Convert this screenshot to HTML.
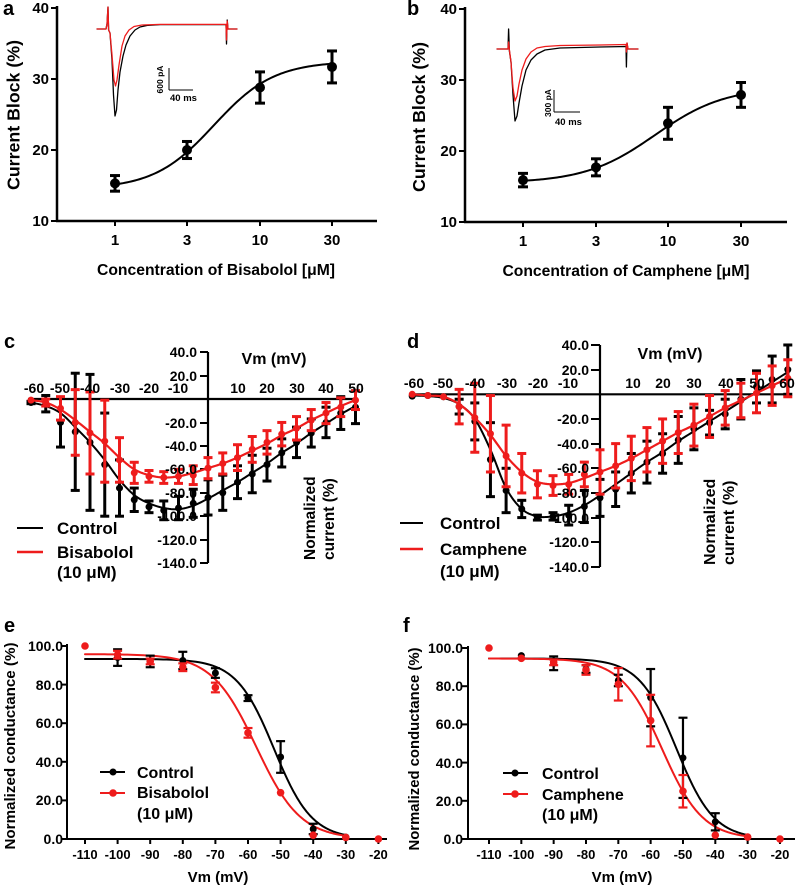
<!DOCTYPE html>
<html><head><meta charset="utf-8"><style>
html,body{margin:0;padding:0;background:#fff;}
svg{display:block;}
text{font-family:"Liberation Sans",Arial,sans-serif;font-weight:bold;fill:#000;}
</style></head><body>
<svg id="s" xmlns="http://www.w3.org/2000/svg" width="797" height="886" viewBox="0 0 797 886">
<rect width="797" height="886" fill="#fff"/>
<g id="g"></g>
<!-- panel letters -->
<text x="3" y="15" font-size="20">a</text>
<text x="407" y="15" font-size="20">b</text>
<text x="4" y="348" font-size="20">c</text>
<text x="407" y="348" font-size="20">d</text>
<text x="4" y="632" font-size="20">e</text>
<text x="403" y="632" font-size="20">f</text>

<!-- panel a text -->
<g font-size="15" text-anchor="end">
<text x="49" y="13">40</text><text x="49" y="84">30</text><text x="49" y="155">20</text><text x="49" y="226">10</text>
</g>
<g font-size="15" text-anchor="middle">
<text x="115" y="245">1</text><text x="187" y="245">3</text><text x="260" y="245">10</text><text x="332" y="245">30</text>
</g>
<text x="216" y="275" font-size="15.7" text-anchor="middle" textLength="238" lengthAdjust="spacingAndGlyphs">Concentration of Bisabolol [μM]</text>
<text transform="translate(19.5,115) rotate(-90)" font-size="17.5" text-anchor="middle" textLength="150" lengthAdjust="spacingAndGlyphs">Current Block (%)</text>
<text transform="translate(163,79.5) rotate(-90)" font-size="8.5" text-anchor="middle">600 pA</text>
<text x="170" y="101" font-size="9.5">40 ms</text>

<!-- panel b text -->
<g font-size="15" text-anchor="end">
<text x="457" y="14">40</text><text x="457" y="85">30</text><text x="457" y="156">20</text><text x="457" y="227">10</text>
</g>
<g font-size="15" text-anchor="middle">
<text x="523" y="246">1</text><text x="596" y="246">3</text><text x="668" y="246">10</text><text x="741" y="246">30</text>
</g>
<text x="626" y="276" font-size="15.7" text-anchor="middle" textLength="247" lengthAdjust="spacingAndGlyphs">Concentration of Camphene [μM]</text>
<text transform="translate(425,117) rotate(-90)" font-size="17.5" text-anchor="middle" textLength="150" lengthAdjust="spacingAndGlyphs">Current Block (%)</text>
<text transform="translate(551,103) rotate(-90)" font-size="8.5" text-anchor="middle">300 pA</text>
<text x="555" y="125" font-size="9.5">40 ms</text>

<!-- panel c text -->
<g font-size="14" text-anchor="end">
<text x="197" y="357">40.0</text><text x="197" y="381">20.0</text>
<text x="197" y="428">-20.0</text><text x="197" y="451">-40.0</text><text x="197" y="474">-60.0</text>
<text x="197" y="498">-80.0</text><text x="197" y="521">-100.0</text><text x="197" y="545">-120.0</text><text x="197" y="568">-140.0</text>
</g>
<g font-size="14" text-anchor="middle">
<text x="34" y="393">-60</text><text x="60" y="393">-50</text><text x="90" y="393">-40</text><text x="120" y="393">-30</text>
<text x="149" y="393">-20</text><text x="178" y="393">-10</text><text x="238" y="393">10</text><text x="267" y="393">20</text>
<text x="297" y="393">30</text><text x="326" y="393">40</text><text x="356" y="393">50</text>
</g>
<text x="274" y="364" font-size="16" text-anchor="middle">Vm (mV)</text>
<text transform="translate(315,560) rotate(-90)" font-size="15.5">Normalized</text>
<text transform="translate(334,560) rotate(-90)" font-size="15.5">current (%)</text>
<text x="57" y="534" font-size="17">Control</text>
<text x="57" y="558" font-size="17">Bisabolol</text>
<text x="57" y="578" font-size="17">(10 μM)</text>

<!-- panel d text -->
<g font-size="14" text-anchor="end">
<text x="589" y="350">40.0</text><text x="589" y="375">20.0</text>
<text x="589" y="424">-20.0</text><text x="589" y="449">-40.0</text><text x="589" y="473">-60.0</text>
<text x="589" y="498">-80.0</text><text x="589" y="523">-100.0</text><text x="589" y="547">-120.0</text><text x="589" y="572">-140.0</text>
</g>
<g font-size="14" text-anchor="middle">
<text x="414" y="388">-60</text><text x="443" y="388">-50</text><text x="475" y="388">-40</text><text x="507" y="388">-30</text>
<text x="538" y="388">-20</text><text x="568" y="388">-10</text><text x="633" y="388">10</text><text x="663" y="388">20</text>
<text x="694" y="388">30</text><text x="726" y="388">40</text><text x="757" y="388">50</text><text x="787" y="388">60</text>
</g>
<text x="670" y="359" font-size="16" text-anchor="middle">Vm (mV)</text>
<text transform="translate(715,565) rotate(-90)" font-size="16">Normalized</text>
<text transform="translate(734,565) rotate(-90)" font-size="16">current (%)</text>
<text x="440" y="529" font-size="17">Control</text>
<text x="440" y="555" font-size="17">Camphene</text>
<text x="440" y="577" font-size="17">(10 μM)</text>

<!-- panel e text -->
<g font-size="14" text-anchor="end">
<text x="63" y="651">100.0</text><text x="63" y="690">80.0</text><text x="63" y="728">60.0</text>
<text x="63" y="767">40.0</text><text x="63" y="805">20.0</text><text x="63" y="844">0.0</text>
</g>
<g font-size="13" text-anchor="middle">
<text x="85" y="859">-110</text><text x="117.6" y="859">-100</text><text x="150.2" y="859">-90</text><text x="182.8" y="859">-80</text>
<text x="215.4" y="859">-70</text><text x="248" y="859">-60</text><text x="280.6" y="859">-50</text><text x="313.2" y="859">-40</text>
<text x="345.8" y="859">-30</text><text x="378.4" y="859">-20</text>
</g>
<text x="218" y="882" font-size="15" text-anchor="middle">Vm (mV)</text>
<text transform="translate(15,746) rotate(-90)" font-size="15" text-anchor="middle" textLength="207" lengthAdjust="spacingAndGlyphs">Normalized conductance (%)</text>
<text x="137" y="778" font-size="16">Control</text>
<text x="137" y="798" font-size="16">Bisabolol</text>
<text x="137" y="819" font-size="16">(10 μM)</text>

<!-- panel f text -->
<g font-size="14" text-anchor="end">
<text x="463" y="653">100.0</text><text x="463" y="691">80.0</text><text x="463" y="729">60.0</text>
<text x="463" y="768">40.0</text><text x="463" y="806">20.0</text><text x="463" y="844">0.0</text>
</g>
<g font-size="13" text-anchor="middle">
<text x="489" y="859">-110</text><text x="521.3" y="859">-100</text><text x="553.7" y="859">-90</text><text x="586" y="859">-80</text>
<text x="618.3" y="859">-70</text><text x="650.7" y="859">-60</text><text x="683" y="859">-50</text><text x="715.3" y="859">-40</text>
<text x="747.6" y="859">-30</text><text x="780" y="859">-20</text>
</g>
<text x="622" y="882" font-size="15" text-anchor="middle">Vm (mV)</text>
<text transform="translate(419,749) rotate(-90)" font-size="15" text-anchor="middle" textLength="203" lengthAdjust="spacingAndGlyphs">Normalized conductance (%)</text>
<text x="542" y="779" font-size="16">Control</text>
<text x="542" y="800" font-size="16">Camphene</text>
<text x="542" y="820" font-size="16">(10 μM)</text>
</svg>
<script>
(function(){
var NS='http://www.w3.org/2000/svg';
var G=document.getElementById('g');
function el(t,a){var e=document.createElementNS(NS,t);for(var k in a)e.setAttribute(k,a[k]);G.appendChild(e);return e;}
function line(x1,y1,x2,y2,c,w){el('line',{x1:x1,y1:y1,x2:x2,y2:y2,stroke:c,'stroke-width':w});}
function dot(x,y,r,c){el('circle',{cx:x,cy:y,r:r,fill:c});}
function ebar(x,y1,y2,c,w,cw){line(x,y1,x,y2,c,w);line(x-cw,y1,x+cw,y1,c,w);line(x-cw,y2,x+cw,y2,c,w);}
function poly(pts,c,w){el('path',{d:'M'+pts.map(function(p){return p[0].toFixed(2)+','+p[1].toFixed(2);}).join('L'),fill:'none',stroke:c,'stroke-width':w,'stroke-linejoin':'round','stroke-linecap':'round'});}
function spline(pts,n){n=n||10;var out=[];for(var i=0;i<pts.length-1;i++){var p0=pts[Math.max(i-1,0)],p1=pts[i],p2=pts[i+1],p3=pts[Math.min(i+2,pts.length-1)];
 for(var j=0;j<n;j++){var t=j/n,t2=t*t,t3=t2*t;var f=function(a,b,c,d){return 0.5*((2*b)+(-a+c)*t+(2*a-5*b+4*c-d)*t2+(-a+3*b-3*c+d)*t3);};
 out.push([f(p0[0],p1[0],p2[0],p3[0]),f(p0[1],p1[1],p2[1],p3[1])]);}}out.push(pts[pts.length-1]);return out;}
var R='#ee1c1c',K='#000';

/* ---------- panel a ---------- */
line(57,6,57,222,K,2.5);line(56,221,377,221,K,2.5);
[8,79,150,221].forEach(function(y){line(51,y,57,y,K,2);});
[115,187,260,332].forEach(function(x){line(x,221,x,226,K,2);});
function Ya(v){return 221-(v-10)*7.1;}
var pa=[];for(var x=115;x<=332;x+=2){pa.push([x,Ya(14.5+18/(1+Math.exp(-(x-214)/30)))]);}
poly(pa,K,2);
[[115,15.3,1.1],[187,20.0,1.2],[260,28.8,2.2],[332,31.7,2.25]].forEach(function(d){ebar(d[0],Ya(d[1]+d[2]),Ya(d[1]-d[2]),K,3,5);dot(d[0],Ya(d[1]),5,K);});
// inset a
poly([[97,29],[106,29],[107,24],[108,7],[108.6,30],[110,33],[112,60],[113.5,95],[115,116],[116.5,110],[118,90],[120,72],[123,56],[126,45],[130,36],[135,30],[140,27],[148,25.3],[160,24.6],[226,24.6],[226.5,44],[227.2,20],[228,29],[237,29]],K,1.3);
poly([[97,29],[106,29],[107,24],[108,7],[108.6,30],[110,33],[112,55],[114,80],[115.5,86],[117,80],[119,65],[122,46],[125,36],[129,30],[134,26.5],[142,25],[160,24.4],[226,24.4],[226.5,40],[227.2,21],[228,29],[237,29]],R,1.3);
line(169,68,169,90,K,1);line(169,90,193,90,K,1);

/* ---------- panel b ---------- */
line(465,7,465,223,K,2.5);line(464,222,787,222,K,2.5);
[9,80,151,222].forEach(function(y){line(459,y,465,y,K,2);});
[523,596,668,741].forEach(function(x){line(x,222,x,227,K,2);});
function Yb(v){return 222-(v-10)*7.1;}
var pb=[];for(var x=523;x<=741;x+=2){pb.push([x,Yb(15.5+13.5/(1+Math.exp(-(x-655)/35)))]);}
poly(pb,K,2);
[[523,15.9,0.95],[596,17.7,1.2],[668,23.9,2.25],[741,27.9,1.75]].forEach(function(d){ebar(d[0],Yb(d[1]+d[2]),Yb(d[1]-d[2]),K,3,5);dot(d[0],Yb(d[1]),5,K);});
// inset b
poly([[497,49],[508,49],[508.6,29],[509.4,51],[511,62],[513,95],[515,121],[517,116],[519,103],[522,86],[526,70],[531,60],[537,54],[545,50],[560,48],[600,47],[626,46.5],[626.4,67],[627,43],[628,49],[638,49]],K,1.3);
poly([[497,49],[508,49],[508.6,42],[509.4,50],[511,62],[513,88],[515,101],[517,96],[519,84],[522,70],[526,59],[531,52],[537,48],[545,46.5],[560,45.5],[600,45],[626,44.5],[626.4,52],[627,43],[628,49],[638,49]],R,1.3);
line(554,90,554,112,K,1);line(554,112,580,112,K,1);

/* ---------- panel c ---------- */
function Xc(V){return 208+V*2.95;} function Yc(v){return 399-1.172*v;}
line(208,352,208,563,K,2.2);line(28,399,357,399,K,2.2);
[352,376,423,446,469,493,516,540,563].forEach(function(y){line(200,y,208,y,K,2);});
var cK=[[-60,-3],[-55,-6],[-50,-12],[-45,-24],[-40,-37],[-35,-52],[-30,-69],[-25,-82],[-20,-89],[-15,-93],[-10,-94],[-5,-91],[0,-85],[5,-78],[10,-71],[15,-63],[20,-55],[25,-46],[30,-38],[35,-29],[40,-21],[45,-13],[50,-6]];
var cR=[[-60,-1],[-55,-3],[-50,-9],[-45,-18],[-40,-28],[-35,-38],[-30,-50],[-25,-60],[-20,-65],[-15,-67],[-10,-66],[-5,-63],[0,-59],[5,-55],[10,-50],[15,-44],[20,-38],[25,-31],[30,-25],[35,-18],[40,-12],[45,-6],[50,-1]];
var dK=[[-60,-3,1],[-55,-4,7],[-50,-20,21],[-45,-28,50],[-40,-37,58],[-35,-56,44],[-30,-76,24],[-25,-86,10],[-20,-92,5],[-15,-95,8],[-10,-93,10],[-5,-89,12],[0,-84,15],[5,-80,15],[10,-71,14],[15,-64,16],[20,-56,14],[25,-46,12],[30,-37,13],[35,-29,12],[40,-20,13],[45,-12,14],[50,-7,14]];
var dR=[[-60,-1,0],[-55,-3,3],[-50,-8,10],[-45,-20,28],[-40,-29,35],[-35,-36,35],[-30,-52,19],[-25,-63,9],[-20,-66,5],[-15,-67,5],[-10,-66,6],[-5,-65,8],[0,-59,9],[5,-55,9],[10,-50,11],[15,-43,11],[20,-37,10],[25,-30,10],[30,-25,10],[35,-18,9],[40,-12,9],[45,-7,8],[50,-1,8]];
poly(spline(cK.map(function(p){return [Xc(p[0]),Yc(p[1])];}),8),K,2);
dK.forEach(function(d){if(d[2]>0)ebar(Xc(d[0]),Yc(d[1]+d[2]),Yc(d[1]-d[2]),K,3,4.5);dot(Xc(d[0]),Yc(d[1]),3.5,K);});
poly(spline(cR.map(function(p){return [Xc(p[0]),Yc(p[1])];}),8),R,2.2);
dR.forEach(function(d){if(d[2]>0)ebar(Xc(d[0]),Yc(d[1]+d[2]),Yc(d[1]-d[2]),R,3,4.5);dot(Xc(d[0]),Yc(d[1]),3.5,R);});
line(17,528,43,528,K,2);line(17,552,43,552,R,2.5);

/* ---------- panel d ---------- */
function Xd(V){return 600+V*3.13;} function Yd(v){return 394.3-1.233*v;}
line(600,345,600,567,K,2.2);line(410,394.3,792,394.3,K,2.2);
[345,370,419,444,468,493,518,542,567].forEach(function(y){line(591,y,600,y,K,2);});
var eK=[[-60,-1],[-55,-1.5],[-50,-3],[-45,-8],[-40,-20],[-35,-45],[-30,-76],[-25,-93],[-20,-99],[-15,-99],[-10,-96],[-5,-90],[0,-82],[5,-73],[10,-64],[15,-55],[20,-47],[25,-38],[30,-30],[35,-22],[40,-14],[45,-6],[50,2],[55,10],[60,18]];
var eR=[[-60,0],[-55,-1],[-50,-2],[-45,-8],[-40,-19],[-35,-33],[-30,-50],[-25,-63],[-20,-71],[-15,-73],[-10,-72],[-5,-68],[0,-63],[5,-58],[10,-52],[15,-45],[20,-38],[25,-31],[30,-25],[35,-18],[40,-11],[45,-5],[50,1],[55,7],[60,13]];
var fK=[[-60,-1.5,0],[-55,-1,0],[-50,-2,0],[-45,-10,6],[-40,-22,15],[-35,-53,30],[-30,-78,18],[-25,-93,7],[-20,-100,2],[-15,-99,3],[-10,-98,8],[-5,-91,13],[0,-84,15],[5,-77,14],[10,-64,16],[15,-55,17],[20,-48,16],[25,-37,19],[30,-28,17],[35,-23,10],[40,-16,12],[45,-4,16],[50,6,13],[55,12,19],[60,20,20]];
var fR=[[-60,0,0],[-55,-1,0],[-50,-2,0],[-45,-10,14],[-40,-19,28],[-35,-32,31],[-30,-50,25],[-25,-64,16],[-20,-73,11],[-15,-74,8],[-10,-73,8],[-5,-65,10],[0,-63,18],[5,-58,18],[10,-52,18],[15,-45,18],[20,-38,18],[25,-31,17],[30,-25,17],[35,-18,17],[40,-11,14],[45,-5,14],[50,1,16],[55,7,16],[60,13,15]];
poly(spline(eK.map(function(p){return [Xd(p[0]),Yd(p[1])];}),8),K,2);
fK.forEach(function(d){if(d[2]>0)ebar(Xd(d[0]),Yd(d[1]+d[2]),Yd(d[1]-d[2]),K,3,4.5);dot(Xd(d[0]),Yd(d[1]),3.5,K);});
poly(spline(eR.map(function(p){return [Xd(p[0]),Yd(p[1])];}),8),R,2.2);
fR.forEach(function(d){if(d[2]>0)ebar(Xd(d[0]),Yd(d[1]+d[2]),Yd(d[1]-d[2]),R,3,4.5);dot(Xd(d[0]),Yd(d[1]),3.5,R);});
line(400,523,423,523,K,2);line(400,549,423,549,R,2.5);

/* ---------- panel e ---------- */
function Xe(V){return 85+(V+110)*3.26;} function Ye(v){return 839-1.93*v;}
line(67,644,67,840,K,2);line(66,839,387,839,K,2);
[0,20,40,60,80,100].forEach(function(v){line(61,Ye(v),67,Ye(v),K,2);});
for(var V=-110;V<=-20;V+=10){line(Xe(V),839,Xe(V),844,K,2);}
function boltz(top,vh,k){var p=[];for(var V=-110;V<=-30;V+=1){p.push([V,top/(1+Math.exp((V-vh)/k))]);}return p;}
poly(boltz(93.3,-52,5.8).map(function(p){return [Xe(p[0]),Ye(p[1])];}),K,2);
poly(boltz(95.8,-57.5,6.8).map(function(p){return [Xe(p[0]),Ye(p[1])];}),R,2);
[[-100,94,4.3],[-90,92,3],[-80,92.5,4.5],[-70,86,2.5],[-60,73,1.5],[-50,42.5,8.2],[-40,5.2,2.7],[-30,1,0]].forEach(function(d){if(d[2]>0)ebar(Xe(d[0]),Ye(d[1]+d[2]),Ye(d[1]-d[2]),K,2.2,4.5);dot(Xe(d[0]),Ye(d[1]),3.5,K);});
[[-110,100,0],[-100,95.5,2],[-90,92,1.5],[-80,89,2],[-70,78.5,2.5],[-60,55,2.5],[-50,24,0],[-40,2,0],[-30,0.8,0],[-20,0,0]].forEach(function(d){if(d[2]>0)ebar(Xe(d[0]),Ye(d[1]+d[2]),Ye(d[1]-d[2]),R,2.2,4.5);dot(Xe(d[0]),Ye(d[1]),3.8,R);});
line(100,772,125,772,K,2);dot(113,772,3.5,K);
line(100,793,125,793,R,2);dot(113,793,3.8,R);

/* ---------- panel f ---------- */
function Xf(V){return 489+(V+110)*3.233;} function Yf(v){return 839-1.91*v;}
line(468,646,468,840,K,2);line(467,839,795,839,K,2);
[0,20,40,60,80,100].forEach(function(v){line(462,Yf(v),468,Yf(v),K,2);});
for(var V=-110;V<=-20;V+=10){line(Xf(V),839,Xf(V),844,K,2);}
poly(boltz(94.5,-52,5.8).map(function(p){return [Xf(p[0]),Yf(p[1])];}),K,2);
poly(boltz(94.5,-56.5,6.3).map(function(p){return [Xf(p[0]),Yf(p[1])];}),R,2);
[[-100,96,0],[-90,92,3.6],[-80,89,2],[-70,83,3],[-60,74,15],[-50,42.5,21],[-40,9,4.5],[-30,1,0]].forEach(function(d){if(d[2]>0)ebar(Xf(d[0]),Yf(d[1]+d[2]),Yf(d[1]-d[2]),K,2.2,4.5);dot(Xf(d[0]),Yf(d[1]),3.5,K);});
[[-110,100,0],[-100,94.6,0],[-90,92.5,1.5],[-80,88.5,2.5],[-70,81,8.5],[-60,62,13.5],[-50,25,8.5],[-40,2,0],[-30,1,0],[-20,0,0]].forEach(function(d){if(d[2]>0)ebar(Xf(d[0]),Yf(d[1]+d[2]),Yf(d[1]-d[2]),R,2.2,4.5);dot(Xf(d[0]),Yf(d[1]),3.8,R);});
line(503,773,528,773,K,2);dot(515,773,3.5,K);
line(503,794,528,794,R,2);dot(515,794,3.8,R);
})();
</script>
</body></html>
